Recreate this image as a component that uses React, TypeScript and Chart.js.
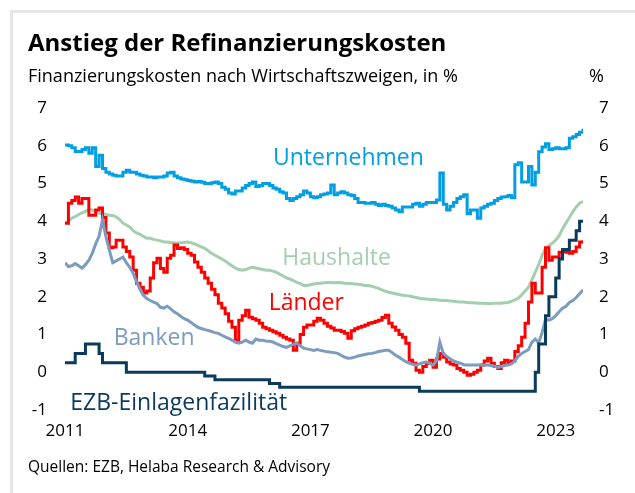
import React, { useEffect, useRef } from "react";
import { Chart, registerables } from "chart.js";

Chart.register(...registerables);

// Monthly data, Jan 2011 .. Sep 2023 (153 months)
const START_YEAR = 2011;
const X_MAX = 2011 + 152 / 12;
const xTickYears = [2011, 2014, 2017, 2020, 2023];
const yMin = -1;
const yMax = 7;

const unternehmen = [
  6.02, 6.0, 5.95, 5.85, 5.85, 5.9, 5.95, 5.8, 5.95, 5.45, 5.75, 5.4,
  5.3, 5.25, 5.22, 5.2, 5.2, 5.3, 5.35, 5.3, 5.3, 5.25, 5.22, 5.2,
  5.17, 5.17, 5.15, 5.17, 5.17, 5.2, 5.28, 5.3, 5.2, 5.15, 5.12, 5.1,
  5.08, 5.06, 5.04, 5.05, 5.03, 5.0, 5.0, 5.02, 5.04, 5.0, 4.9, 4.85,
  4.75, 4.72, 4.8, 4.8, 4.88, 4.95, 5.0, 5.04, 4.92, 4.95, 5.0, 5.0,
  4.95, 4.88, 4.85, 4.78, 4.75, 4.6, 4.55, 4.6, 4.65, 4.7, 4.8, 4.75,
  4.65, 4.62, 4.65, 4.7, 4.72, 4.75, 4.96, 4.7, 4.75, 4.78, 4.75, 4.7,
  4.68, 4.6, 4.5, 4.5, 4.48, 4.48, 4.5, 4.45, 4.42, 4.45, 4.42, 4.4,
  4.35, 4.3, 4.25, 4.38, 4.38, 4.38, 4.45, 4.48, 4.4, 4.45, 4.5, 4.5,
  4.5, 4.56, 5.28, 4.45, 4.3, 4.4, 4.5, 4.6, 4.65, 4.7, 4.2, 4.3,
  4.3, 4.08, 4.35, 4.4, 4.45, 4.48, 4.55, 4.6, 4.64, 4.65, 4.68, 4.62,
  5.5, 5.55, 5.04, 5.04, 5.45, 4.96, 5.3, 5.84, 5.97, 6.05, 5.9, 5.92,
  5.95, 5.92, 5.92, 5.95, 6.2, 6.24, 6.3, 6.36, 6.45,
];

const haushalte = [
  3.95, 4.0, 4.08, 4.12, 4.18, 4.22, 4.26, 4.32, 4.3, 4.25, 4.22, 4.2,
  4.18, 4.16, 4.15, 4.12, 4.05, 3.95, 3.9, 3.85, 3.75, 3.69, 3.65, 3.6,
  3.55, 3.55, 3.52, 3.5, 3.48, 3.45, 3.45, 3.44, 3.43, 3.42, 3.43, 3.44,
  3.45, 3.43, 3.4, 3.36, 3.32, 3.28, 3.22, 3.15, 3.1, 3.05, 3.0, 2.95,
  2.88, 2.82, 2.76, 2.72, 2.7, 2.72, 2.76, 2.78, 2.76, 2.74, 2.72, 2.7,
  2.7, 2.68, 2.65, 2.6, 2.55, 2.5, 2.47, 2.43, 2.38, 2.35, 2.3, 2.3,
  2.32, 2.34, 2.35, 2.36, 2.37, 2.38, 2.38, 2.37, 2.38, 2.37, 2.36, 2.35,
  2.35, 2.34, 2.33, 2.32, 2.3, 2.3, 2.28, 2.25, 2.22, 2.18, 2.15, 2.12,
  2.1, 2.08, 2.06, 2.04, 2.03, 2.02, 2.0, 1.98, 1.96, 1.95, 1.94, 1.93,
  1.93, 1.92, 1.91, 1.9, 1.9, 1.89, 1.88, 1.87, 1.86, 1.86, 1.85, 1.84,
  1.84, 1.83, 1.83, 1.83, 1.82, 1.82, 1.83, 1.83, 1.83, 1.84, 1.85, 1.88,
  1.92, 1.96, 2.05, 2.15, 2.25, 2.45, 2.65, 2.85, 3.1, 3.28, 3.35, 3.42,
  3.5, 3.62, 3.8, 3.95, 4.1, 4.25, 4.38, 4.48, 4.52,
];

const laender = [
  3.95, 4.48, 4.55, 4.64, 4.48, 4.6, 4.6, 4.16, 4.16, 4.3, 4.35, 4.1,
  3.69, 3.3, 3.32, 3.5, 3.5, 3.32, 3.2, 3.05, 2.7, 2.36, 2.25, 2.1,
  2.15, 2.5, 2.9, 3.02, 2.75, 2.65, 3.02, 3.1, 3.37, 3.28, 3.3, 3.25,
  3.15, 3.1, 2.92, 2.78, 2.65, 2.5, 2.36, 2.2, 2.05, 1.83, 1.7, 1.55,
  1.35, 1.19, 0.85, 1.38, 1.5, 1.64, 1.46, 1.42, 1.38, 1.3, 1.19, 1.15,
  1.11, 1.07, 1.03, 0.98, 0.93, 0.88, 0.85, 0.58, 0.77, 1.0, 1.19, 1.25,
  1.25, 1.35, 1.43, 1.38, 1.3, 1.22, 1.17, 1.11, 1.11, 1.08, 1.03, 0.9,
  1.1, 1.15, 1.19, 1.22, 1.25, 1.3, 1.32, 1.35, 1.38, 1.45, 1.51, 1.3,
  1.2, 1.11, 1.0, 0.93, 0.77, 0.32, 0.24, 0.05, 0.0, 0.15, 0.24, 0.32,
  0.13, 0.35, 0.5, 0.4, 0.27, 0.22, 0.19, 0.1, 0.05, 0.0, -0.08, -0.05,
  0.0, 0.05, 0.19, 0.3, 0.37, 0.24, 0.15, 0.1, 0.25, 0.32, 0.25, 0.3,
  0.55, 0.7, 0.93, 1.3, 1.86, 2.36, 2.1, 2.1, 2.78, 3.3, 2.97, 3.05,
  3.05, 3.18, 3.2, 3.18, 3.15, 3.2, 3.32, 3.45, 3.5,
];

const banken = [
  2.9, 2.8, 2.82, 2.88, 2.82, 2.76, 2.85, 2.97, 3.15, 3.4, 3.6, 4.03,
  3.6, 3.24, 2.9, 2.95, 3.0, 3.05, 2.9, 2.78, 2.62, 2.4, 2.2, 2.04,
  1.95, 1.9, 1.86, 1.82, 1.72, 1.7, 1.75, 1.68, 1.6, 1.55, 1.48, 1.42,
  1.38, 1.32, 1.25, 1.19, 1.16, 1.13, 1.11, 1.08, 1.05, 1.03, 0.98, 0.94,
  0.9, 0.85, 0.8, 0.77, 0.8, 0.85, 0.8, 0.77, 0.88, 0.85, 0.85, 0.83,
  0.82, 0.8, 0.76, 0.72, 0.68, 0.66, 0.7, 0.74, 0.77, 0.7, 0.64, 0.62,
  0.6, 0.58, 0.6, 0.58, 0.56, 0.54, 0.53, 0.52, 0.5, 0.45, 0.4, 0.37,
  0.38, 0.4, 0.43, 0.45, 0.47, 0.49, 0.5, 0.52, 0.55, 0.56, 0.58, 0.58,
  0.52, 0.45, 0.4, 0.34, 0.28, 0.24, 0.21, 0.19, 0.22, 0.25, 0.27, 0.24,
  0.19, 0.3, 0.8, 0.5, 0.42, 0.36, 0.3, 0.27, 0.24, 0.2, 0.19, 0.19,
  0.19, 0.19, 0.19, 0.19, 0.19, 0.18, 0.16, 0.13, 0.15, 0.18, 0.19, 0.22,
  0.3, 0.42, 0.5, 0.55, 0.6, 0.8, 0.88, 0.78, 1.05, 1.4, 1.38, 1.42,
  1.5, 1.6, 1.7, 1.75, 1.85, 1.9, 1.98, 2.08, 2.18,
];

const ezb = [
  0.25, 0.25, 0.25, 0.5, 0.5, 0.5, 0.75, 0.75, 0.75, 0.75, 0.5, 0.25,
  0.25, 0.25, 0.25, 0.25, 0.25, 0.25, 0, 0, 0, 0, 0, 0,
  0, 0, 0, 0, 0, 0, 0, 0, 0, 0, 0, 0,
  0, 0, 0, 0, 0, -0.1, -0.1, -0.1, -0.2, -0.2, -0.2, -0.2,
  -0.2, -0.2, -0.2, -0.2, -0.2, -0.2, -0.2, -0.2, -0.2, -0.2, -0.2, -0.2,
  -0.3, -0.3, -0.3, -0.4, -0.4, -0.4, -0.4, -0.4, -0.4, -0.4, -0.4, -0.4,
  -0.4, -0.4, -0.4, -0.4, -0.4, -0.4, -0.4, -0.4, -0.4, -0.4, -0.4, -0.4,
  -0.4, -0.4, -0.4, -0.4, -0.4, -0.4, -0.4, -0.4, -0.4, -0.4, -0.4, -0.4,
  -0.4, -0.4, -0.4, -0.4, -0.4, -0.4, -0.4, -0.4, -0.5, -0.5, -0.5, -0.5,
  -0.5, -0.5, -0.5, -0.5, -0.5, -0.5, -0.5, -0.5, -0.5, -0.5, -0.5, -0.5,
  -0.5, -0.5, -0.5, -0.5, -0.5, -0.5, -0.5, -0.5, -0.5, -0.5, -0.5, -0.5,
  -0.5, -0.5, -0.5, -0.5, -0.5, -0.5, 0, 0.75, 0.75, 1.5, 2.0, 2.0,
  2.5, 3.0, 3.25, 3.25, 3.5, 3.5, 3.75, 4.0, 4.0,
];

const COLORS = {
  unternehmen: "#009FE3",
  haushalte: "#A3CFAF",
  laender: "#FF0000",
  banken: "#7B9BBF",
  ezb: "#0A3A5C",
};

const seriesLabels = [
  { text: "Unternehmen", x: 2017.93, y: 5.67, color: COLORS.unternehmen },
  { text: "Haushalte", x: 2017.64, y: 3.02, color: COLORS.haushalte },
  { text: "Länder", x: 2016.9, y: 1.83, color: COLORS.laender },
  { text: "Banken", x: 2013.18, y: 0.9, color: COLORS.banken },
  { text: "EZB-Einlagenfazilität", x: 2013.78, y: -0.82, color: COLORS.ezb },
];

const FONT = '"Open Sans", "Noto Sans", sans-serif';

const toPoints = (vals: number[]) =>
  vals.map((v, i) => ({ x: START_YEAR + i / 12, y: v }));

const labelPlugin = {
  id: "seriesLabels",
  afterDatasetsDraw(chart: any) {
    const { ctx, scales } = chart;
    const x = scales.x;
    const y = scales.y;
    ctx.save();
    ctx.font = `23px ${FONT}`;
    ctx.textAlign = "center";
    ctx.textBaseline = "middle";
    for (const l of seriesLabels) {
      ctx.fillStyle = l.color;
      ctx.fillText(l.text, x.getPixelForValue(l.x), y.getPixelForValue(l.y));
    }
    ctx.restore();
  },
};

export default function App() {
  const ref = useRef<HTMLCanvasElement | null>(null);

  useEffect(() => {
    if (!ref.current) return;
    const line = (label: string, data: number[], color: string, stepped: any) => ({
      label,
      data: toPoints(data),
      borderColor: color,
      backgroundColor: color,
      borderWidth: 3,
      pointRadius: 0,
      tension: 0,
      stepped,
      fill: false,
    });
    const tickFont = { family: FONT, size: 17 };
    const chart = new Chart(ref.current, {
      type: "line",
      data: {
        datasets: [
          line("EZB-Einlagenfazilität", ezb, COLORS.ezb, "before"),
          line("Banken", banken, COLORS.banken, false),
          line("Länder", laender, COLORS.laender, "before"),
          line("Unternehmen", unternehmen, COLORS.unternehmen, "before"),
          line("Haushalte", haushalte, COLORS.haushalte, false),
        ],
      },
      options: {
        animation: false,
        responsive: false,
        layout: { padding: { top: 108, bottom: 53, left: 0, right: 0 } },
        plugins: { legend: { display: false }, tooltip: { enabled: false }, title: { display: false } },
        scales: {
          x: {
            type: "linear",
            min: START_YEAR,
            max: X_MAX,
            grid: { display: false, drawTicks: false },
            border: { display: false },
            afterFit: (s: any) => { s.height = 30; },
            afterBuildTicks: (s: any) => { s.ticks = xTickYears.map((v) => ({ value: v })); },
            ticks: {
              color: "#000",
              font: tickFont,
              padding: 11,
              maxRotation: 0,
              autoSkip: false,
              callback: (v: any) => String(v),
            },
          },
          y: {
            position: "left",
            min: yMin,
            max: yMax,
            grid: { display: false, drawTicks: false },
            border: { display: false },
            afterFit: (s: any) => { s.width = 65; },
            ticks: { stepSize: 1, color: "#000", font: tickFont, padding: 18, callback: (v: any) => String(v) },
          },
          y2: {
            position: "right",
            min: yMin,
            max: yMax,
            grid: { display: false, drawTicks: false },
            border: { display: false },
            afterFit: (s: any) => { s.width = 52; },
            ticks: { stepSize: 1, color: "#000", font: tickFont, padding: 16, callback: (v: any) => String(v) },
          },
        },
      },
      plugins: [labelPlugin],
    });
    return () => chart.destroy();
  }, []);

  return (
    <div style={{ position: "relative", width: 635, height: 493, background: "#fff", overflow: "hidden", fontFamily: FONT, color: "#000" }}>
      <style>{`body{margin:0}`}</style>
      <div style={{ position: "absolute", left: 10, top: 10, right: -10, bottom: -10, borderTop: "3px solid #e6e6e6", borderLeft: "3px solid #e6e6e6" }} />
      <canvas ref={ref} width={635} height={493} style={{ position: "absolute", left: 0, top: 0, width: 635, height: 493 }} />
      <div style={{ position: "absolute", left: 28, top: 30, fontSize: 24, lineHeight: "24px", fontWeight: 700, whiteSpace: "nowrap" }}>
        Anstieg der Refinanzierungskosten
      </div>
      <div style={{ position: "absolute", left: 28, top: 66, fontSize: 18, lineHeight: "18px", whiteSpace: "nowrap" }}>
        Finanzierungskosten nach Wirtschaftszweigen, in %
      </div>
      <div style={{ position: "absolute", left: 589, top: 66, fontSize: 18, lineHeight: "18px" }}>%</div>
      <div style={{ position: "absolute", left: 28, top: 459, fontSize: 15.5, lineHeight: "15.5px", whiteSpace: "nowrap" }}>
        Quellen: EZB, Helaba Research &amp; Advisory
      </div>
    </div>
  );
}
